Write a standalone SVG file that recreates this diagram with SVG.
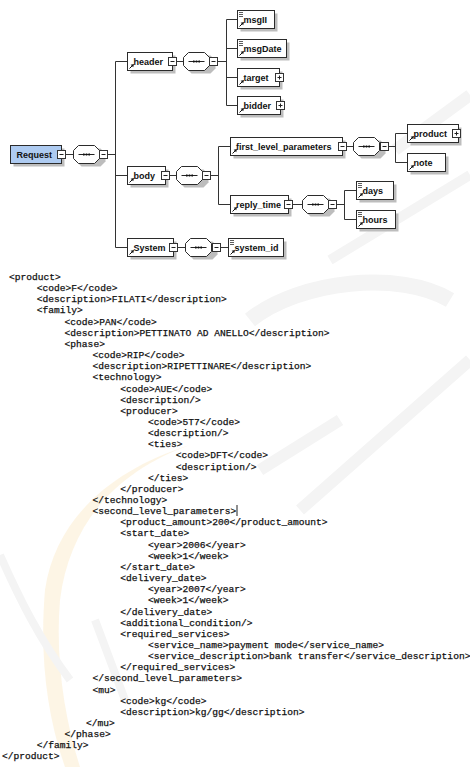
<svg xmlns="http://www.w3.org/2000/svg" xmlns:xlink="http://www.w3.org/1999/xlink" width="470" height="767" viewBox="0 0 470 767">
<style>
.box{fill:#ffffff;stroke:#2b2b2b;stroke-width:1}
.req{fill:#aecbf1;stroke:#2b2b2b;stroke-width:1}
.sh{fill:#bdbdbd}
.pm{fill:#ffffff;stroke:#333;stroke-width:1}
.pmline{stroke:#222;stroke-width:1}
.lbl{font-family:"Liberation Sans",Arial,sans-serif;font-size:9px;font-weight:bold;fill:#111}
.con{stroke:#333;stroke-width:1;fill:none}
.xml{font-family:"Liberation Mono","Courier New",monospace;font-size:9.6px;fill:#111;stroke:#111;stroke-width:0.25;white-space:pre}
.wm{fill:none;stroke:#f4f4f4}
</style>
<defs>
<g id="ref"><path d="M2 16 L5.2 12.8" stroke="#111" stroke-width="1"/><path d="M6.5 11.5 L3.2 12.3 L5.7 14.8 Z" fill="#111"/></g>
<g id="eq"><path d="M1.5 2 H5.5 M1.5 4 H5.5 M1.5 6 H5.5" stroke="#333" stroke-width="0.8"/></g>
<g id="minus"><rect class="pm" x="0" y="0" width="8" height="8"/><path class="pmline" d="M2 4 H6"/></g>
<g id="plus"><rect class="pm" x="0" y="0" width="8" height="8"/><path class="pmline" d="M2 4 H6 M4 2 V6"/></g>
<g id="seq">
<path d="M8 3 H27 L32 8 V16 L27 21 H8 L3 16 V8 Z" fill="#bdbdbd"/>
<path d="M5 0 H21 L26 5 V13 L21 18 H5 L0 13 V5 Z" fill="#fff" stroke="#2b2b2b"/>
<path d="M5 9 H21" stroke="#222"/>
<rect x="9.5" y="8" width="1.6" height="2" fill="#111"/><rect x="12.2" y="8" width="1.6" height="2" fill="#111"/><rect x="14.9" y="8" width="1.6" height="2" fill="#111"/>
</g>
</defs>
<rect width="470" height="767" fill="#ffffff"/>
<g id="watermark">
<path d="M395 150 L470 95" class="wm" stroke-width="12"/>
<path d="M330 260 L470 175" class="wm" stroke-width="10"/>
<path d="M250 320 C300 280 400 270 450 300" class="wm" stroke-width="16"/>
<path d="M260 470 L340 420 M300 510 L470 360" class="wm" stroke-width="12"/>
<path d="M190 445 C120 470 70 520 60 600 C55 660 65 720 80 767 L65 767 C45 710 40 650 45 590 C55 520 110 470 190 445 Z" fill="#fbe6bd" opacity="0.4"/>
<path d="M0 555 C20 600 40 640 70 680 M95 620 L125 700" class="wm" stroke-width="8"/>
</g>
<g id="connectors" transform="translate(0.5,0.5)">
<path class="con" d="M65 154 H73 M107 154 H115 M115 61 V247 M115 61 H127 M115 175 H127 M115 247 H127"/>
<path class="con" d="M176 61 H183 M217 61 H226 M226 19 V105 M226 19 H237 M226 48 H237 M226 77 H237 M226 105 H237"/>
<path class="con" d="M169 175 H176 M210 175 H218 M218 146 V204 M218 146 H230 M218 204 H230"/>
<path class="con" d="M346 146 H353 M388 146 H395 M395 133 V162 M395 133 H407 M395 162 H407"/>
<path class="con" d="M292 204 H302 M336 204 H344 M344 190 V219 M344 190 H356 M344 219 H356"/>
<path class="con" d="M177 247 H185 M220 247 H228"/>
</g>
<g transform="translate(0.5,0.5)">
<g id="node-request"><rect class="sh" x="13" y="148" width="51" height="18"/><rect class="req" x="10" y="145" width="51" height="18"/><text class="lbl" x="16" y="157.5">Request</text><use xlink:href="#minus" x="57" y="150"/></g>
<g id="seq-request"><use xlink:href="#seq" x="73" y="145"/><use xlink:href="#minus" x="99" y="150"/></g>
<g id="node-header"><rect class="sh" x="130" y="55" width="45" height="18"/><rect class="box" x="127" y="52" width="45" height="18"/><use xlink:href="#ref" x="127" y="52"/><text class="lbl" x="133" y="64.5">header</text><use xlink:href="#minus" x="168" y="57"/></g>
<g id="seq-header"><use xlink:href="#seq" x="183" y="52"/><use xlink:href="#minus" x="209" y="57"/></g>
<g id="node-msgII"><rect class="sh" x="240" y="13" width="37" height="18"/><rect class="box" x="237" y="10" width="37" height="18"/><use xlink:href="#ref" x="237" y="10"/><use xlink:href="#eq" x="237" y="10"/><text class="lbl" x="243" y="22.5">msgII</text></g>
<g id="node-msgDate"><rect class="sh" x="240" y="42" width="49" height="18"/><rect class="box" x="237" y="39" width="49" height="18"/><use xlink:href="#ref" x="237" y="39"/><use xlink:href="#eq" x="237" y="39"/><text class="lbl" x="243" y="51.5">msgDate</text></g>
<g id="node-target"><rect class="sh" x="240" y="71" width="42" height="18"/><rect class="box" x="237" y="68" width="42" height="18"/><use xlink:href="#ref" x="237" y="68"/><text class="lbl" x="243" y="80.5">target</text><use xlink:href="#plus" x="275" y="73"/></g>
<g id="node-bidder"><rect class="sh" x="240" y="99" width="43" height="18"/><rect class="box" x="237" y="96" width="43" height="18"/><use xlink:href="#ref" x="237" y="96"/><text class="lbl" x="243" y="108.5">bidder</text><use xlink:href="#plus" x="276" y="101"/></g>
<g id="node-body"><rect class="sh" x="130" y="169" width="38" height="18"/><rect class="box" x="127" y="166" width="38" height="18"/><use xlink:href="#ref" x="127" y="166"/><text class="lbl" x="133" y="178.5">body</text><use xlink:href="#minus" x="161" y="171"/></g>
<g id="seq-body"><use xlink:href="#seq" x="176" y="166"/><use xlink:href="#minus" x="202" y="171"/></g>
<g id="node-first_level_parameters"><rect class="sh" x="233" y="140" width="112" height="18"/><rect class="box" x="230" y="137" width="112" height="18"/><use xlink:href="#ref" x="230" y="137"/><text class="lbl" x="235.5" y="149.5">first_level_parameters</text><use xlink:href="#minus" x="338" y="142"/></g>
<g id="seq-first_level"><use xlink:href="#seq" x="353" y="137"/><use xlink:href="#minus" x="380" y="142"/></g>
<g id="node-product"><rect class="sh" x="410" y="127" width="51" height="18"/><rect class="box" x="407" y="124" width="51" height="18"/><use xlink:href="#ref" x="407" y="124"/><text class="lbl" x="413" y="136.5">product</text><use xlink:href="#plus" x="452" y="129"/></g>
<g id="node-note"><rect class="sh" x="410" y="156" width="38" height="18"/><rect class="box" x="407" y="153" width="38" height="18"/><use xlink:href="#ref" x="407" y="153"/><text class="lbl" x="413" y="165.5">note</text></g>
<g id="node-reply_time"><rect class="sh" x="233" y="198" width="58" height="18"/><rect class="box" x="230" y="195" width="58" height="18"/><use xlink:href="#ref" x="230" y="195"/><text class="lbl" x="235.5" y="207.5">reply_time</text><use xlink:href="#minus" x="284" y="200"/></g>
<g id="seq-reply_time"><use xlink:href="#seq" x="302" y="195"/><use xlink:href="#minus" x="328" y="200"/></g>
<g id="node-days"><rect class="sh" x="359" y="184" width="37" height="18"/><rect class="box" x="356" y="181" width="37" height="18"/><use xlink:href="#ref" x="356" y="181"/><use xlink:href="#eq" x="356" y="181"/><text class="lbl" x="362" y="193.5">days</text></g>
<g id="node-hours"><rect class="sh" x="359" y="213" width="39" height="18"/><rect class="box" x="356" y="210" width="39" height="18"/><use xlink:href="#ref" x="356" y="210"/><use xlink:href="#eq" x="356" y="210"/><text class="lbl" x="362" y="222.5">hours</text></g>
<g id="node-System"><rect class="sh" x="130" y="241" width="46" height="18"/><rect class="box" x="127" y="238" width="46" height="18"/><use xlink:href="#ref" x="127" y="238"/><text class="lbl" x="133" y="250.5">System</text><use xlink:href="#minus" x="169" y="243"/></g>
<g id="seq-System"><use xlink:href="#seq" x="185" y="238"/><use xlink:href="#minus" x="212" y="243"/></g>
<g id="node-system_id"><rect class="sh" x="231" y="241" width="55" height="18"/><rect class="box" x="228" y="238" width="55" height="18"/><use xlink:href="#ref" x="228" y="238"/><use xlink:href="#eq" x="228" y="238"/><text class="lbl" x="234" y="250.5">system_id</text></g>
</g>
<g id="xml-listing">
<text class="xml" x="9" y="280">&lt;product&gt;</text>
<text class="xml" x="36.8" y="291.15">&lt;code&gt;F&lt;/code&gt;</text>
<text class="xml" x="36.8" y="302.3">&lt;description&gt;FILATI&lt;/description&gt;</text>
<text class="xml" x="36.8" y="313.45">&lt;family&gt;</text>
<text class="xml" x="64.6" y="324.6">&lt;code&gt;PAN&lt;/code&gt;</text>
<text class="xml" x="64.6" y="335.75">&lt;description&gt;PETTINATO AD ANELLO&lt;/description&gt;</text>
<text class="xml" x="64.6" y="346.9">&lt;phase&gt;</text>
<text class="xml" x="92.4" y="358.05">&lt;code&gt;RIP&lt;/code&gt;</text>
<text class="xml" x="92.4" y="369.2">&lt;description&gt;RIPETTINARE&lt;/description&gt;</text>
<text class="xml" x="92.4" y="380.35">&lt;technology&gt;</text>
<text class="xml" x="120.2" y="391.5">&lt;code&gt;AUE&lt;/code&gt;</text>
<text class="xml" x="120.2" y="402.65">&lt;description/&gt;</text>
<text class="xml" x="120.2" y="413.8">&lt;producer&gt;</text>
<text class="xml" x="148" y="424.95">&lt;code&gt;5T7&lt;/code&gt;</text>
<text class="xml" x="148" y="436.1">&lt;description/&gt;</text>
<text class="xml" x="148" y="447.25">&lt;ties&gt;</text>
<text class="xml" x="175.8" y="458.4">&lt;code&gt;DFT&lt;/code&gt;</text>
<text class="xml" x="175.8" y="469.55">&lt;description/&gt;</text>
<text class="xml" x="148" y="480.7">&lt;/ties&gt;</text>
<text class="xml" x="120.2" y="491.85">&lt;/producer&gt;</text>
<text class="xml" x="92.4" y="503">&lt;/technology&gt;</text>
<text class="xml" x="92.4" y="514.15">&lt;second_level_parameters&gt;</text>
<rect x="236.5" y="505" width="1" height="11" fill="#222"/>
<text class="xml" x="120.2" y="525.3">&lt;product_amount&gt;200&lt;/product_amount&gt;</text>
<text class="xml" x="120.2" y="536.45">&lt;start_date&gt;</text>
<text class="xml" x="148" y="547.6">&lt;year&gt;2006&lt;/year&gt;</text>
<text class="xml" x="148" y="558.75">&lt;week&gt;1&lt;/week&gt;</text>
<text class="xml" x="120.2" y="569.9">&lt;/start_date&gt;</text>
<text class="xml" x="120.2" y="581.05">&lt;delivery_date&gt;</text>
<text class="xml" x="148" y="592.2">&lt;year&gt;2007&lt;/year&gt;</text>
<text class="xml" x="148" y="603.35">&lt;week&gt;1&lt;/week&gt;</text>
<text class="xml" x="120.2" y="614.5">&lt;/delivery_date&gt;</text>
<text class="xml" x="120.2" y="625.65">&lt;additional_condition/&gt;</text>
<text class="xml" x="120.2" y="636.8">&lt;required_services&gt;</text>
<text class="xml" x="148" y="647.95">&lt;service_name&gt;payment mode&lt;/service_name&gt;</text>
<text class="xml" x="148" y="659.1">&lt;service_description&gt;bank transfer&lt;/service_description&gt;</text>
<text class="xml" x="120.2" y="670.25">&lt;/required_services&gt;</text>
<text class="xml" x="92.4" y="681.4">&lt;/second_level_parameters&gt;</text>
<text class="xml" x="92.4" y="692.55">&lt;mu&gt;</text>
<text class="xml" x="120.2" y="703.7">&lt;code&gt;kg&lt;/code&gt;</text>
<text class="xml" x="120.2" y="714.85">&lt;description&gt;kg/gg&lt;/description&gt;</text>
<text class="xml" x="86" y="726">&lt;/mu&gt;</text>
<text class="xml" x="64.6" y="737.15">&lt;/phase&gt;</text>
<text class="xml" x="36.8" y="748.3">&lt;/family&gt;</text>
<text class="xml" x="2" y="759.45">&lt;/product&gt;</text>
</g>
</svg>
